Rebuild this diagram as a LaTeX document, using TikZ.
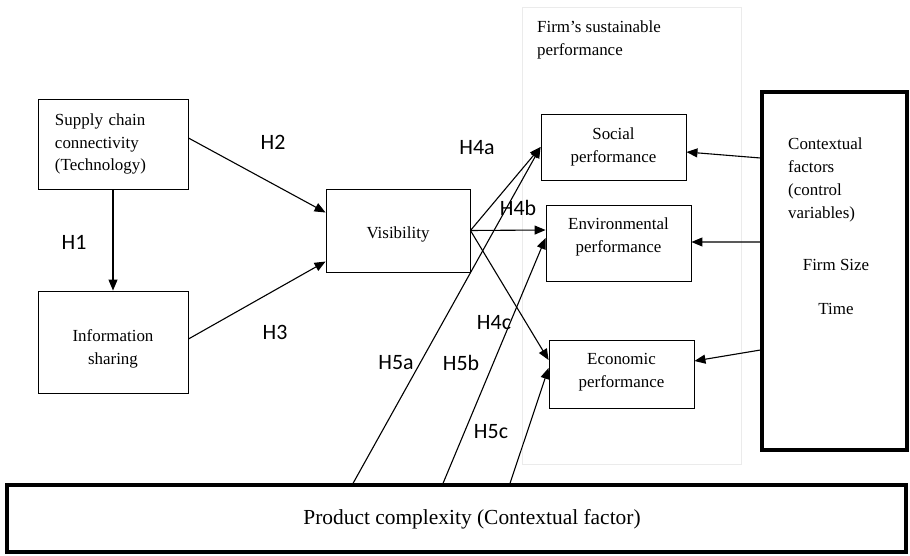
\documentclass[tikz,border=0pt]{standalone}
\usepackage{fontspec}
\setmainfont{Liberation Serif}
\newfontfamily\hfont{Carlito}
\usepackage{tikz}
\usetikzlibrary{arrows.meta}

\begin{document}
\begin{tikzpicture}[x=1bp, y=-1bp,
box/.style={draw, line width=0.9bp, inner sep=0pt, align=center,
  font=\fontsize{17}{23}\selectfont},
thickbox/.style={box, line width=3.2bp},
txt/.style={inner sep=0pt, align=center, font=\fontsize{17}{23}\selectfont},
hyp/.style={inner sep=0pt, font=\hfont\fontsize{22}{24}\selectfont},
arr/.style={line width=1.1bp, -{Triangle[length=11bp, width=9bp]}}]
\useasboundingbox (0,0) rectangle (910,556);

% sustainable performance frame
\node[draw=black!8, line width=0.8bp, minimum width=219bp, minimum height=457bp,
  inner sep=0pt] (frame) at (631.5,235.5) {};
\node[txt, anchor=north west, align=left] (frametitle) at (537,21)
  {Firm’s sustainable\\performance};

% constructs
\node[box, minimum width=150bp, minimum height=90bp, text width=116bp, align=left]
  (sct) at (113,144) {Supply chain\\connectivity\\(Technology)};
\node[box, minimum width=150bp, minimum height=102bp] (info) at (113,342) {};
\node[txt] (infotext) at (113,349) {Information\\sharing};
\node[box, minimum width=144bp, minimum height=83bp] (vis) at (398,230.5) {};
\node[txt] (vistext) at (398,234) {Visibility};
\node[box, minimum width=145bp, minimum height=66bp] (soc) at (613.5,147)
  {Social\\performance};
\node[box, minimum width=145bp, minimum height=76bp] (env) at (618.5,243) {};
\node[txt] (envtext) at (618.5,237) {Environmental\\performance};
\node[box, minimum width=145bp, minimum height=68bp] (econ) at (621.5,374) {};
\node[txt] (econtext) at (621.5,372) {Economic\\performance};
\node[thickbox, minimum width=145bp, minimum height=358bp] (ctx) at (834.5,271) {};
\node[txt, anchor=north west, align=left] (ctxtitle) at (788,138)
  {Contextual\\factors\\(control\\variables)};
\node[txt] (size) at (836,265) {Firm Size};
\node[txt] (time) at (836,309) {Time};
\node[thickbox, minimum width=899bp, minimum height=67bp] (prod) at (456.5,518.5) {};
\node[txt, font=\fontsize{21.5}{24}\selectfont] (prodtext) at (472,519)
  {Product complexity (Contextual factor)};

% hypotheses
\draw[arr] (sct) -- (info);
\draw[arr] ([yshift=6bp]sct.east) -- ([yshift=18bp]vis.west);
\draw[arr] ([yshift=3bp]info.east) -- ([yshift=-31bp]vis.west);
\draw[arr] (vis.east) -- (soc.west);
\draw[arr] (vis.east) -- ([yshift=13bp]env.west);
\draw[arr] (vis.east) -- ([yshift=14bp]econ.west);
\draw[arr] ([xshift=-103.5bp]prod.north) -- (soc.west);
\draw[arr] ([xshift=-13.5bp]prod.north) -- ([yshift=5bp]env.west);
\draw[arr] ([xshift=53.5bp]prod.north) -- ([yshift=6bp]econ.west);
\draw[arr] ([yshift=113bp]ctx.west) -- ([yshift=-5bp]soc.east);
\draw[arr] ([yshift=29bp]ctx.west) -- ([yshift=1bp]env.east);
\draw[arr] ([yshift=-79bp]ctx.west) -- ([yshift=13bp]econ.east);

\node[hyp] (h1) at (74,242) {H1};
\node[hyp] (h2) at (273,142) {H2};
\node[hyp] (h3) at (275,332) {H3};
\node[hyp] (h4a) at (477,148) {H4a};
\node[hyp] (h4b) at (518,208) {H4b};
\node[hyp] (h4c) at (494,323) {H4c};
\node[hyp] (h5a) at (396,363) {H5a};
\node[hyp] (h5b) at (461,363) {H5b};
\node[hyp] (h5c) at (491,432) {H5c};
\end{tikzpicture}
\end{document}
